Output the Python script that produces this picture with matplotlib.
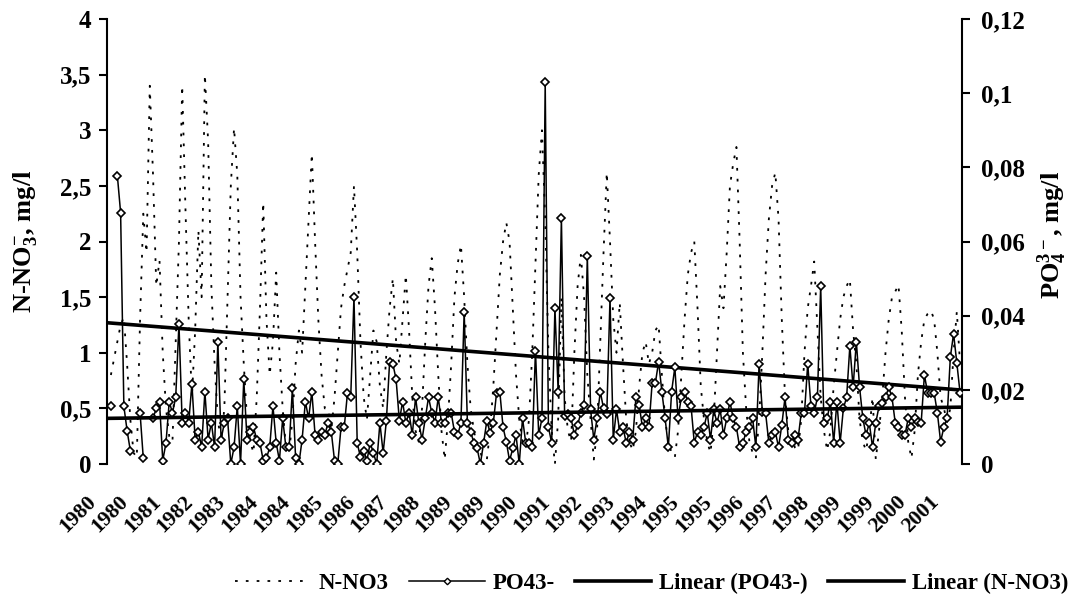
import numpy as np
import matplotlib
matplotlib.use("Agg")
import matplotlib.pyplot as plt
from matplotlib.transforms import blended_transform_factory, offset_copy
from matplotlib.ticker import FuncFormatter, FixedLocator
from matplotlib.lines import Line2D

plt.rcParams["font.family"] = ["Liberation Serif", "DejaVu Serif"]
plt.rcParams["font.weight"] = "bold"
plt.rcParams["mathtext.fontset"] = "custom"
plt.rcParams["mathtext.rm"] = "Liberation Serif:bold"
plt.rcParams["mathtext.it"] = "Liberation Serif:bold"
plt.rcParams["mathtext.bf"] = "Liberation Serif:bold"

nan = np.nan

# Nitrate nitrogen, mg/l (one value per sampling)
no3 = [
    0.8, 0.95, 1.1, 1.25, 1.32, 0.9, 0.4, 0.1, 0.06, 1.3,
    2.25, 1.9, 3.4, 2.6, 1.6, 1.83, 1.0, 0.5, 0.25, 0.2,
    1.1, 2.0, 3.4, 2.3, 1.3, 0.6, 1.2, 2.1, 1.5, 3.5,
    2.9, 1.6, 0.9, 0.4, 0.2, 0.5, 1.5, 2.5, 3.02, 2.6,
    1.5, 0.9, 0.4, 0.2, 0.1, 0.6, 1.4, 2.35, 1.3, 0.8,
    1.1, 1.72, 1.0, 0.5, 0.15, 0.1, 0.4, 0.9, 1.2, 1.0,
    1.6, 2.2, 2.79, 2.0, 1.3, 0.8, 0.5, 0.5, 0.3, 0.6,
    1.0, 1.4, 1.6, 1.75, 1.9, 2.5, 1.9, 1.1, 0.6, 0.4,
    0.8, 1.2, 1.1, 0.7, 0.5, 1.0, 1.4, 1.67, 1.1, 0.9,
    1.3, 1.7, 1.2, 0.6, 0.3, 0.2, 0.5, 1.1, 1.6, 1.85,
    1.4, 0.8, 0.3, 0.04, 0.4, 0.9, 1.5, 1.8, 1.97, 1.5,
    0.9, 0.5, 0.3, 0.15, 0.1, 0.04, 0.04, 0.3, 0.7, 1.2,
    1.7, 2.0, 2.17, 2.0, 1.4, 0.8, 0.4, 0.2, 0.15, 0.4,
    1.0, 1.8, 2.6, 3.0, 2.2, 1.0, 0.3, 0.0, 0.4, 1.5,
    0.6, 0.3, 0.2, 1.0, 1.6, 1.88, 1.5, 0.8, 0.4, 0.04,
    0.3, 1.1, 1.9, 2.62, 2.0, 1.3, 1.0, 1.45, 0.9, 0.4,
    0.2, 0.12, 0.3, 0.7, 1.0, 1.1, 0.9, 1.0, 1.2, 1.25,
    0.8, 0.4, 0.2, 0.1, 0.06, 0.3, 0.8, 1.3, 1.7, 1.9,
    2.0, 1.4, 0.7, 0.4, 0.2, 0.1, 0.4, 1.0, 1.6, 1.4,
    1.9, 2.5, 2.7, 2.85, 2.0, 1.0, 0.5, 0.2, 0.1, 0.05,
    0.4, 1.0, 1.7, 2.2, 2.5, 2.62, 2.2, 1.3, 0.6, 0.3,
    0.3, 0.15, 0.12, 0.4, 1.0, 1.4, 1.6, 1.82, 1.2, 0.6,
    0.3, 0.12, 0.3, 0.7, 1.0, 1.3, 1.5, 1.6, 1.66, 1.2,
    0.9, 0.4, 0.2, 0.12, 0.3, 0.6, 0.04, 0.3, 0.6, 1.0,
    1.3, 1.5, 1.55, 1.61, 1.2, 0.6, 0.2, 0.05, 0.3, 0.8,
    1.1, 1.3, 1.35, 1.38, 1.3, 1.0, 0.6, 0.5, 0.38, 0.5,
    1.0, 1.37, 0.9,
]

# Phosphate, mg/l (nan = no sample)
po4 = [
    0.0156, nan, 0.0777, 0.0678, 0.0156, 0.009, 0.0036, nan, nan, 0.0138,
    0.0015, nan, nan, 0.0123, 0.015, 0.0168, 0.0009, 0.0057, 0.0168, 0.0138,
    0.018, 0.0378, 0.0111, 0.0138, 0.0111, 0.0216, 0.0066, 0.0087, 0.0045, 0.0195,
    0.0066, 0.0111, 0.0045, 0.033, 0.0066, 0.0111, 0.0123, 0.0, 0.0045, 0.0156,
    0.0, 0.0228, 0.0066, 0.0087, 0.0099, 0.0066, 0.0057, 0.0009, 0.0015, 0.0045,
    0.0156, 0.0057, 0.0009, 0.0123, 0.0045, 0.0045, 0.0204, 0.0015, 0.0, 0.0066,
    0.0168, 0.0123, 0.0195, 0.0078, 0.0066, 0.0087, 0.0078, 0.0111, 0.0087, 0.0009,
    0.0, 0.0099, 0.0099, 0.0192, 0.018, 0.045, 0.0057, 0.0018, 0.0036, 0.0009,
    0.0057, 0.003, 0.0, 0.0111, 0.003, 0.0117, 0.0276, 0.027, 0.0228, 0.0117,
    0.0168, 0.0111, 0.0138, 0.0078, 0.018, 0.0111, 0.0066, 0.0123, 0.018, 0.0138,
    0.0111, 0.018, 0.0111, 0.0111, 0.0138, 0.0138, 0.0087, 0.0078, 0.0111, 0.0411,
    0.0111, 0.0087, 0.0057, 0.0042, 0.0, 0.0057, 0.0117, 0.0084, 0.0111, 0.0192,
    0.0195, 0.0099, 0.006, 0.0009, 0.0042, 0.0078, 0.0, 0.0123, 0.0057, 0.0057,
    0.0045, 0.0306, 0.0078, 0.0123, 0.1029, 0.0099, 0.0057, 0.042, 0.0195, 0.0663,
    0.0129, 0.0135, 0.0123, 0.0078, 0.0105, 0.0138, 0.0159, 0.0561, 0.0147, 0.0066,
    0.0123, 0.0195, 0.015, 0.0135, 0.0447, 0.0066, 0.0147, 0.0087, 0.0099, 0.0057,
    0.0087, 0.0066, 0.018, 0.0159, 0.0099, 0.0123, 0.0099, 0.0219, 0.0219, 0.0276,
    0.0195, 0.0123, 0.0045, 0.0195, 0.0261, 0.0123, 0.018, 0.0195, 0.0168, 0.0156,
    0.0057, 0.0087, 0.0078, 0.0099, 0.0138, 0.0066, 0.0147, 0.0111, 0.0147, 0.0078,
    0.0123, 0.0168, 0.0123, 0.0099, 0.0045, 0.0057, 0.0087, 0.0099, 0.0123, 0.0045,
    0.027, 0.0141, 0.0138, 0.0057, 0.0078, 0.0087, 0.0045, 0.0105, 0.018, 0.0066,
    0.0057, 0.0078, 0.0066, 0.0138, 0.0138, 0.027, 0.0156, 0.0138, 0.018, 0.048,
    0.0111, 0.0123, 0.0168, 0.0057, 0.0168, 0.0057, 0.015, 0.018, 0.0318, 0.0207,
    0.033, 0.0207, 0.0123, 0.0078, 0.0111, 0.0045, 0.0111, 0.0156, 0.0165, 0.018,
    0.0207, 0.018, 0.0111, 0.0099, 0.0078, 0.0078, 0.0123, 0.0099, 0.0123, 0.0114,
    0.0111, 0.024, 0.0192, 0.0192, 0.0192, 0.0138, 0.006, 0.0099, 0.0123, 0.0288,
    0.0351, 0.0273, 0.0192,
]

# Category labels, one every `label_step` samples
year_labels = [
    "1980", "1980", "1981", "1982", "1983", "1984", "1984", "1985", "1986",
    "1987", "1988", "1989", "1989", "1990", "1991", "1992", "1993", "1994",
    "1995", "1995", "1996", "1997", "1998", "1999", "1999", "2000", "2001",
]
label_step = 10

# Linear trends: (value at first sample, change per sample)
no3_trend = (1.267, -0.002295)
po4_trend = (0.01232, 0.00001145)

n = len(po4)
x = np.arange(n)
xlim = (-1.2, n - 0.4)

fig = plt.figure(figsize=(10.74, 6.07), dpi=100)
ax = fig.add_axes([107 / 1074, 143 / 607, 855 / 1074, 445 / 607])
ax2 = ax.twinx()

dotted = (0, (1.5, 4.5))
ax.plot(x, no3, color="black", lw=1.3, ls=dotted, zorder=2)
ax2.plot(x, po4, color="black", lw=1.1, marker="D", ms=3.8,
         mfc="white", mec="black", mew=1.2, zorder=3)

xt = np.array(xlim)
ax.plot(xt, no3_trend[0] + no3_trend[1] * xt, color="black", lw=2.6, zorder=4)
xp = np.array([xlim[0], n - 1])
ax2.plot(xp, po4_trend[0] + po4_trend[1] * xp, color="black", lw=2.6, zorder=4)

ax.set_xlim(*xlim)
ax.set_ylim(0, 4)
ax2.set_ylim(0, 0.12)

comma = FuncFormatter(lambda v, p: f"{v:.10g}".replace(".", ","))
ax.yaxis.set_major_locator(FixedLocator(np.arange(0, 4.01, 0.5)))
ax2.yaxis.set_major_locator(FixedLocator(np.arange(0, 0.1201, 0.02)))
ax.yaxis.set_major_formatter(comma)
ax2.yaxis.set_major_formatter(comma)

for a in (ax, ax2):
    a.spines["top"].set_visible(False)
    a.spines["bottom"].set_visible(False)
    a.tick_params(axis="x", bottom=False, labelbottom=False)
ax.spines["right"].set_visible(False)
ax2.spines["left"].set_visible(False)
ax.spines["left"].set_linewidth(1.5)
ax2.spines["right"].set_linewidth(1.5)

ax.tick_params(axis="y", direction="out", length=6, width=1.5,
               labelsize=18, pad=5)
ax2.tick_params(axis="y", direction="out", length=6, width=1.5,
                labelsize=18, pad=8)

# rotated year labels under the plot
base = blended_transform_factory(ax.transData, ax.transAxes)
lab_tr = offset_copy(base, fig=fig, x=-25, y=-28, units="dots")
for k, lab in enumerate(year_labels):
    ax.text(k * label_step, 0, lab, transform=lab_tr, rotation=45,
            rotation_mode="anchor", ha="right", va="top", fontsize=15.5,
            fontweight="bold", clip_on=False)

fig.text(0.0233, 0.603, "N-NO$_3^{-}$, mg/l", rotation=90, ha="center",
         va="center", fontsize=19, fontweight="bold")
fig.text(0.9795, 0.613, "PO$_4^{3-}$, mg/l", rotation=90, ha="center",
         va="center", fontsize=19, fontweight="bold")

handles = [
    Line2D([], [], color="black", lw=1.3, ls=dotted),
    Line2D([], [], color="black", lw=1.1, marker="D", ms=3.3,
           mfc="white", mec="black", mew=1.0),
    Line2D([], [], color="black", lw=2.6),
    Line2D([], [], color="black", lw=2.6),
]
labels = ["N-NO3", "PO43-", "Linear (PO43-)", "Linear (N-NO3)"]
fig.legend(handles, labels, loc="center", bbox_to_anchor=(0.6066, 0.0395),
           ncol=4, frameon=False, prop={"size": 16.5, "weight": "bold"},
           handlelength=3.3, handletextpad=0.35, columnspacing=0.9,
           numpoints=1)

fig.savefig("out.png", dpi=100)
